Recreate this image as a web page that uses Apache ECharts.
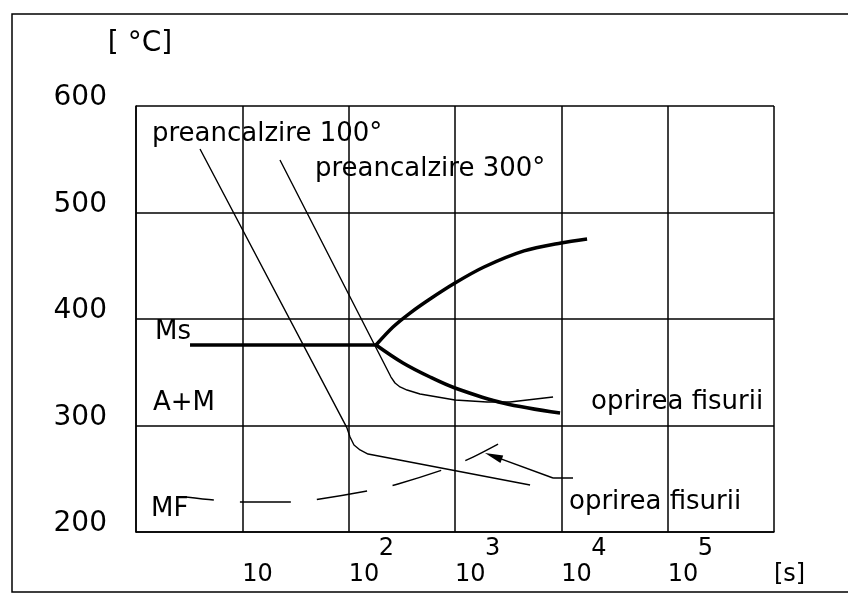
<!DOCTYPE html>
<html>
<head>
<meta charset="utf-8">
<script src="https://cdn.jsdelivr.net/npm/echarts@6/dist/echarts.min.js"></script>
<style>
html,body{margin:0;padding:0;background:#fff;}
#chart{width:848px;height:594px;}
</style>
</head>
<body>
<div id="chart"></div>
<script>
// x = log10(time in seconds), y = temperature in °C
const xTickExponents = ['', '', '2', '3', '4', '5', ''];
const xTickBases = ['', '10', '10', '10', '10', '10', '[s]'];
const yMin = 200, yMax = 600, yStep = 100;

const preheat100 = [[0.602,559.6],[1.984,297.7],[2.013,289.2],[2.050,281.7],[2.107,277.0],[2.182,273.2],[3.706,244.1]];
const preheat300 = [[1.354,549.3],[2.398,345.5],[2.436,339.9],[2.483,336.2],[2.549,333.3],[2.671,329.6],[3.000,323.9],[3.301,322.1],[3.517,322.1],[3.922,326.8]];
const msLine = [[0.508,375.6],[2.257,375.6]];
const msUpper = [[2.257,375.6],[2.417,392.5],[2.577,405.6],[2.765,418.8],[3.000,433.8],[3.273,448.8],[3.649,463.9],[3.997,471.4],[4.242,475.1]];
const msLower = [[2.257,375.6],[2.511,358.7],[2.765,345.5],[3.000,335.2],[3.451,321.1],[3.988,311.7]];
const mfLine = [[0.470,232.9],[0.734,230.0],[0.997,228.2],[1.477,228.2],[1.730,231.0],[2.220,239.4],[2.464,245.1],[2.934,260.1],[3.169,270.4],[3.405,282.6]];
const arrowTick = [[4.110,250.7],[3.922,250.7]];
const arrowShaft = [[3.922,250.7],[3.361,271.3]];

const annotations = [
  [0.150, 573.2, 'preancalzire 100°'],
  [1.683, 540.4, 'preancalzire 300°'],
  [0.179, 387.3, 'Ms'],
  [0.160, 320.7, 'A+M'],
  [0.141, 221.1, 'MF'],
  [4.279, 321.6, 'oprirea fisurii'],
  [4.072, 227.7, 'oprirea fisurii']
];

const FONT = 'DejaVu Sans';
const INK = '#000';

function lineSeries(name, data, width, extra) {
  return Object.assign({
    name: name, type: 'line', data: data, symbol: 'none', silent: true,
    lineStyle: {color: INK, width: width}, z: 3
  }, extra || {});
}

const chart = echarts.init(document.getElementById('chart'), null, {renderer: 'canvas'});
chart.setOption({
  animation: false,
  backgroundColor: '#fff',
  grid: {left: 136, right: 74, top: 106, bottom: 62, containLabel: false},
  graphic: [{
    type: 'rect', shape: {x: 12, y: 14, width: 860, height: 578},
    style: {fill: 'none', stroke: INK, lineWidth: 1.5}, silent: true
  }],
  xAxis: {
    type: 'value', min: 0, max: 6, interval: 1,
    axisLine: {show: true, lineStyle: {color: INK, width: 1.5}},
    axisTick: {show: false},
    splitLine: {show: true, lineStyle: {color: INK, width: 1.5}},
    axisLabel: {
      align: 'left', margin: 4,
      formatter: function (v) {
        const i = Math.round(v);
        if (!xTickBases[i]) return '';
        return '{e|' + (xTickExponents[i] || ' ') + '}\n{b|' + xTickBases[i] + '}';
      },
      rich: {
        e: {fontSize: 24, lineHeight: 26, fontFamily: FONT, color: INK, padding: [0, 0, 0, 30]},
        b: {fontSize: 24, lineHeight: 26, fontFamily: FONT, color: INK}
      }
    }
  },
  yAxis: {
    type: 'value', min: yMin, max: yMax, interval: yStep,
    name: '[ °C]', nameLocation: 'end', nameGap: 62,
    nameTextStyle: {fontSize: 28, fontFamily: FONT, color: INK, align: 'center', verticalAlign: 'middle', padding: [0, 0, 0, 8]},
    axisLine: {show: true, lineStyle: {color: INK, width: 1.5}},
    axisTick: {show: false},
    splitLine: {show: true, lineStyle: {color: INK, width: 1.5}},
    axisLabel: {fontSize: 28, fontFamily: FONT, color: INK, margin: 29, verticalAlign: 'bottom', lineHeight: 16}
  },
  series: [
    lineSeries('preancalzire 100', preheat100, 1.4),
    lineSeries('preancalzire 300', preheat300, 1.4),
    lineSeries('Ms', msLine, 3.5),
    lineSeries('Ms upper', msUpper, 3.5, {smooth: 0.3}),
    lineSeries('Ms lower', msLower, 3.5, {smooth: 0.35}),
    lineSeries('MF', mfLine, 1.4, {smooth: 0.3, lineStyle: {color: INK, width: 1.4, type: [51, 26], dashOffset: 23}}),
    lineSeries('arrow', arrowTick, 1.4, {
      markLine: {
        silent: true, animation: false,
        label: {show: false},
        lineStyle: {type: 'solid', color: INK, width: 1.4},
        itemStyle: {color: INK},
        symbolSize: [8, 18],
        data: [[
          {coord: arrowShaft[0], symbol: 'none'},
          {coord: arrowShaft[1], symbol: 'triangle'}
        ]]
      }
    }),
    {
      name: 'labels', type: 'scatter', data: annotations, symbolSize: 0, silent: true, z: 5,
      itemStyle: {opacity: 1, color: INK},
      label: {
        show: true, position: 'right', distance: 0, opacity: 1,
        formatter: function (p) { return p.data[2]; },
        fontSize: 26, fontFamily: FONT, color: INK
      }
    }
  ]
});
</script>
</body>
</html>
